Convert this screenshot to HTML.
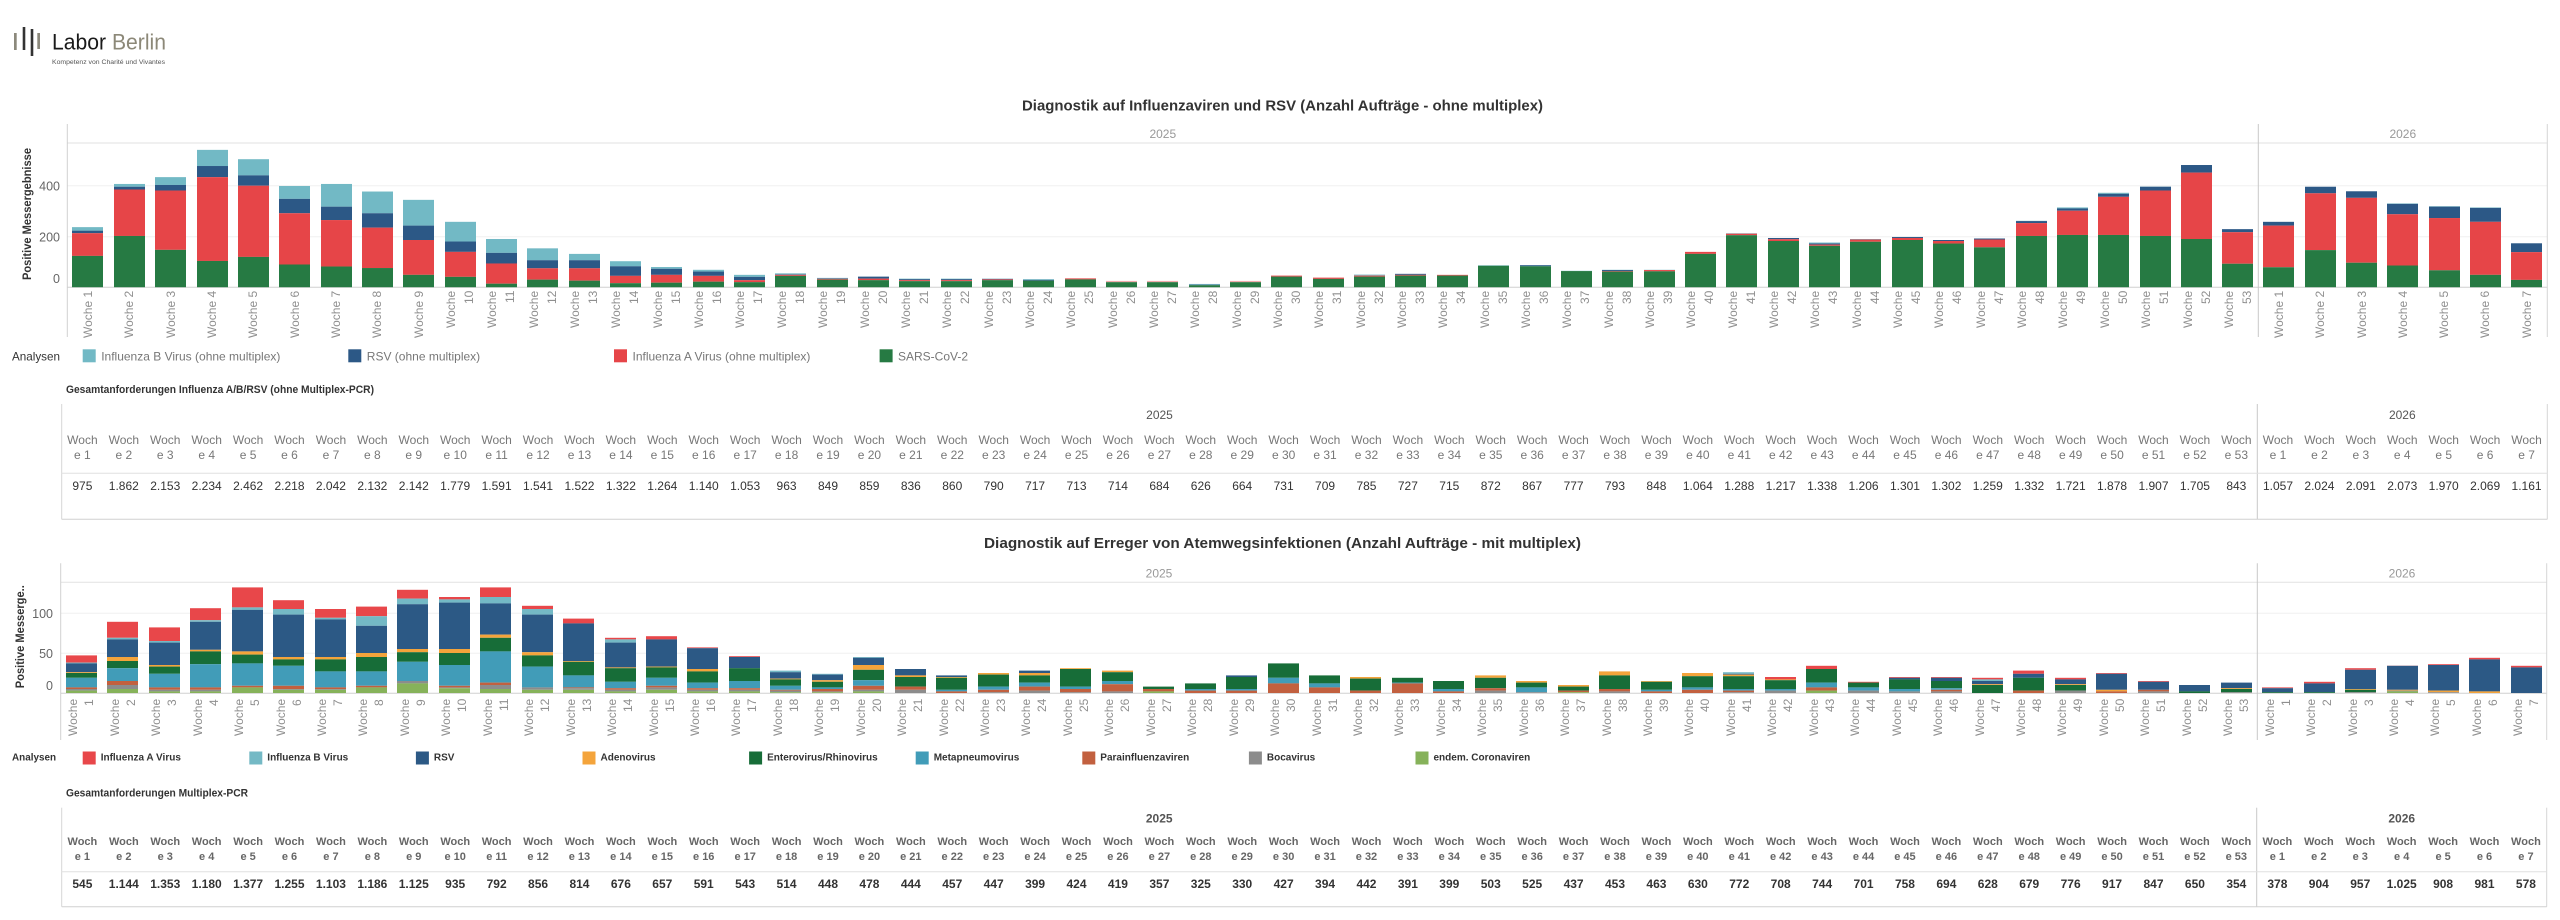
<!DOCTYPE html>
<html><head><meta charset="utf-8">
<style>
body{margin:0;width:2560px;height:920px;background:#fff;position:relative;overflow:hidden;font-family:"Liberation Sans",Arial,sans-serif}
#bg{position:absolute;left:0;top:0}
.bars{position:absolute;display:flex;align-items:flex-end;transform-origin:0 100%}
.c{flex:1 1 0;min-width:0;display:flex;flex-direction:column-reverse;align-items:center}
.c i{display:block;width:31px;flex:none}
.g{background:#267a43}.r{background:#e64548}.d{background:#2c5886}.l{background:#72b9c5}.q{background:#f1abab}
.k{background:#86b25a}.b{background:#8c8c8c}.p{background:#c2603f}.m{background:#419cb8}.e{background:#176d38}.o{background:#f4a43b}.s{background:#2c5985}.u{background:#74b9c5}.f{background:#e8474a}
.labs{position:absolute;display:flex}
.labs>div{flex:1 1 0;min-width:0;display:flex;justify-content:center}
.labs span{writing-mode:vertical-rl;transform:rotate(180deg);text-align:end;height:52px;font-size:12px;color:#8f8f8f;white-space:nowrap}
.l1 span{line-height:18px}
.l2 span{line-height:16px;height:44px}
.tb{position:absolute;display:flex;text-align:center;white-space:nowrap}
.tb>div{flex:1 1 0;min-width:0}
.th1{font-size:12px;line-height:15.3px;color:#777}
.tv1{font-size:12px;line-height:14px;color:#333}
.th2{font-size:11px;line-height:15px;color:#666;font-weight:bold}
.tv2{font-size:12px;line-height:14px;color:#333;font-weight:bold}
</style></head><body>
<svg id="bg" width="2560" height="920" xmlns="http://www.w3.org/2000/svg" font-family="Liberation Sans, Arial, sans-serif">
<!-- logo -->
<rect x="14" y="33" width="2.7" height="17" fill="#8c897c"/>
<rect x="22.7" y="27" width="2.6" height="23" fill="#333"/>
<rect x="30.7" y="29" width="2.6" height="27" fill="#333"/>
<rect x="37.3" y="33" width="2.7" height="16" fill="#8c897c"/>
<text x="52" y="49.5" font-size="22" textLength="114" lengthAdjust="spacingAndGlyphs"><tspan fill="#1a1a1a">Labor</tspan><tspan fill="#8c8878"> Berlin</tspan></text>
<text x="52" y="64" font-size="6.5" fill="#555" textLength="113" lengthAdjust="spacingAndGlyphs">Kompetenz von Charité und Vivantes</text>

<!-- titles -->
<text x="1022" y="106.7" dominant-baseline="central" font-size="14.5" font-weight="bold" fill="#333" textLength="521" lengthAdjust="spacingAndGlyphs">Diagnostik auf Influenzaviren und RSV (Anzahl Aufträge - ohne multiplex)</text>
<text x="984" y="544" dominant-baseline="central" font-size="14.5" font-weight="bold" fill="#333" textLength="597" lengthAdjust="spacingAndGlyphs">Diagnostik auf Erreger von Atemwegsinfektionen (Anzahl Aufträge - mit multiplex)</text>

<!-- chart 1 frame -->
<g stroke-width="1" fill="none">
<line x1="67.3" y1="185.7" x2="2547.3" y2="185.7" stroke="#f0f0f0"/>
<line x1="67.3" y1="236.7" x2="2547.3" y2="236.7" stroke="#f0f0f0"/>
<line x1="67.3" y1="143" x2="2547.3" y2="143" stroke="#e2e2e2"/>
<line x1="67.3" y1="287.3" x2="2547.3" y2="287.3" stroke="#d0d0d0"/>
<line x1="67.3" y1="124" x2="67.3" y2="337" stroke="#d0d0d0"/>
<line x1="2258.3" y1="124" x2="2258.3" y2="337" stroke="#c8c8c8"/>
<line x1="2547.3" y1="124" x2="2547.3" y2="337" stroke="#d6d6d6"/>
</g>
<text x="1162.8" y="134" dominant-baseline="central" text-anchor="middle" font-size="12" fill="#999">2025</text>
<text x="2402.8" y="134" dominant-baseline="central" text-anchor="middle" font-size="12" fill="#999">2026</text>
<g font-size="12.5" fill="#666" text-anchor="end" dominant-baseline="central">
<text x="60" y="186.7">400</text><text x="60" y="237.3">200</text><text x="60" y="279">0</text>
</g>
<text transform="translate(27,214) rotate(-90)" text-anchor="middle" dominant-baseline="central" font-size="12" font-weight="bold" fill="#333" textLength="132" lengthAdjust="spacingAndGlyphs">Positive Messergebnisse</text>

<!-- legend 1 -->
<text x="12" y="356.7" dominant-baseline="central" font-size="12" fill="#333" textLength="48" lengthAdjust="spacingAndGlyphs">Analysen</text>
<rect x="82.7" y="349.3" width="13" height="13" fill="#72b9c5"/>
<text x="101.2" y="356.7" dominant-baseline="central" font-size="12" fill="#777">Influenza B Virus (ohne multiplex)</text>
<rect x="348.3" y="349.3" width="13" height="13" fill="#2c5886"/>
<text x="366.8" y="356.7" dominant-baseline="central" font-size="12" fill="#777">RSV (ohne multiplex)</text>
<rect x="614" y="349.3" width="13" height="13" fill="#e64548"/>
<text x="632.5" y="356.7" dominant-baseline="central" font-size="12" fill="#777">Influenza A Virus (ohne multiplex)</text>
<rect x="879.6" y="349.3" width="13" height="13" fill="#267a43"/>
<text x="898" y="356.7" dominant-baseline="central" font-size="12" fill="#777">SARS-CoV-2</text>

<!-- table 1 -->
<text x="66" y="390" dominant-baseline="central" font-size="11" font-weight="bold" fill="#333" textLength="308" lengthAdjust="spacingAndGlyphs">Gesamtanforderungen Influenza A/B/RSV (ohne Multiplex-PCR)</text>
<g fill="none">
<line x1="61.7" y1="404" x2="61.7" y2="519.3" stroke="#d6d6d6"/>
<line x1="2257.3" y1="404" x2="2257.3" y2="519.3" stroke="#c8c8c8"/>
<line x1="2547.3" y1="404" x2="2547.3" y2="519.3" stroke="#d6d6d6"/>
<line x1="61.7" y1="473.3" x2="2547.3" y2="473.3" stroke="#e0e0e0"/>
<line x1="61.7" y1="519.3" x2="2547.3" y2="519.3" stroke="#d0d0d0"/>
</g>
<text x="1159.5" y="415" dominant-baseline="central" text-anchor="middle" font-size="12" fill="#555">2025</text>
<text x="2402.3" y="415" dominant-baseline="central" text-anchor="middle" font-size="12" fill="#555">2026</text>

<!-- chart 2 frame -->
<g fill="none">
<line x1="60.7" y1="613.3" x2="2546.7" y2="613.3" stroke="#f0f0f0"/>
<line x1="60.7" y1="653.3" x2="2546.7" y2="653.3" stroke="#f0f0f0"/>
<line x1="60.7" y1="582.3" x2="2546.7" y2="582.3" stroke="#e2e2e2"/>
<line x1="60.7" y1="693.3" x2="2546.7" y2="693.3" stroke="#d0d0d0"/>
<line x1="60.7" y1="563.3" x2="60.7" y2="740" stroke="#d0d0d0"/>
<line x1="2257.3" y1="563.3" x2="2257.3" y2="740" stroke="#c8c8c8"/>
<line x1="2546.7" y1="563.3" x2="2546.7" y2="740" stroke="#d6d6d6"/>
</g>
<text x="1159" y="573.3" dominant-baseline="central" text-anchor="middle" font-size="12" fill="#999">2025</text>
<text x="2402" y="573.3" dominant-baseline="central" text-anchor="middle" font-size="12" fill="#999">2026</text>
<g font-size="12.5" fill="#666" text-anchor="end" dominant-baseline="central">
<text x="53" y="614">100</text><text x="53" y="654">50</text><text x="53" y="686">0</text>
</g>
<text transform="translate(20,636.7) rotate(-90)" text-anchor="middle" dominant-baseline="central" font-size="12" font-weight="bold" fill="#333" textLength="103" lengthAdjust="spacingAndGlyphs">Positive Messerge..</text>

<!-- legend 2 -->
<text x="12" y="758" dominant-baseline="central" font-size="10" font-weight="bold" fill="#333" textLength="44" lengthAdjust="spacingAndGlyphs">Analysen</text>
<g font-size="10" font-weight="bold" fill="#333" dominant-baseline="central">
<rect x="82.7" y="751.5" width="13" height="13" fill="#e8474a"/><text x="100.7" y="758">Influenza A Virus</text>
<rect x="249.3" y="751.5" width="13" height="13" fill="#74b9c5"/><text x="267.3" y="758">Influenza B Virus</text>
<rect x="415.9" y="751.5" width="13" height="13" fill="#2c5985"/><text x="433.9" y="758">RSV</text>
<rect x="582.5" y="751.5" width="13" height="13" fill="#f4a43b"/><text x="600.5" y="758">Adenovirus</text>
<rect x="749.1" y="751.5" width="13" height="13" fill="#176d38"/><text x="767.1" y="758">Enterovirus/Rhinovirus</text>
<rect x="915.7" y="751.5" width="13" height="13" fill="#419cb8"/><text x="933.7" y="758">Metapneumovirus</text>
<rect x="1082.3" y="751.5" width="13" height="13" fill="#c2603f"/><text x="1100.3" y="758">Parainfluenzaviren</text>
<rect x="1248.9" y="751.5" width="13" height="13" fill="#8c8c8c"/><text x="1266.9" y="758">Bocavirus</text>
<rect x="1415.5" y="751.5" width="13" height="13" fill="#86b25a"/><text x="1433.5" y="758">endem. Coronaviren</text>
</g>

<!-- table 2 -->
<text x="66" y="793.3" dominant-baseline="central" font-size="11" font-weight="bold" fill="#333" textLength="182" lengthAdjust="spacingAndGlyphs">Gesamtanforderungen Multiplex-PCR</text>
<g fill="none">
<line x1="61.7" y1="807.7" x2="61.7" y2="906.7" stroke="#d6d6d6"/>
<line x1="2256.7" y1="807.7" x2="2256.7" y2="906.7" stroke="#c8c8c8"/>
<line x1="2546.7" y1="807.7" x2="2546.7" y2="906.7" stroke="#d6d6d6"/>
<line x1="61.7" y1="871.7" x2="2546.7" y2="871.7" stroke="#e0e0e0"/>
<line x1="61.7" y1="906.7" x2="2546.7" y2="906.7" stroke="#d0d0d0"/>
</g>
<text x="1159.2" y="818.3" dominant-baseline="central" text-anchor="middle" font-size="12" font-weight="bold" fill="#555">2025</text>
<text x="2401.7" y="818.3" dominant-baseline="central" text-anchor="middle" font-size="12" font-weight="bold" fill="#555">2026</text>
</svg>

<!-- chart 1 bars 2025 -->
<div class="bars" style="left:67.3px;top:0;width:2191px;height:287.3px;transform:scaleY(.2525)">
<div class=c><i class=g style=height:124px></i><i class=r style=height:90px></i><i class=d style=height:10px></i><i class=l style=height:14px></i></div>
<div class=c><i class=g style=height:203px></i><i class=r style=height:184px></i><i class=d style=height:11px></i><i class=l style=height:11px></i></div>
<div class=c><i class=g style=height:148px></i><i class=r style=height:235px></i><i class=d style=height:22px></i><i class=l style=height:31px></i></div>
<div class=c><i class=g style=height:104px></i><i class=r style=height:332px></i><i class=d style=height:44px></i><i class=l style=height:64px></i></div>
<div class=c><i class=g style=height:120px></i><i class=r style=height:282px></i><i class=d style=height:41px></i><i class=l style=height:64px></i></div>
<div class=c><i class=g style=height:90px></i><i class=r style=height:203px></i><i class=d style=height:57px></i><i class=l style=height:51px></i></div>
<div class=c><i class=g style=height:82px></i><i class=r style=height:184px></i><i class=d style=height:53px></i><i class=l style=height:90px></i></div>
<div class=c><i class=g style=height:76px></i><i class=r style=height:160px></i><i class=d style=height:57px></i><i class=l style=height:86px></i></div>
<div class=c><i class=g style=height:49px></i><i class=r style=height:138px></i><i class=d style=height:57px></i><i class=l style=height:102px></i></div>
<div class=c><i class=g style=height:41px></i><i class=r style=height:99px></i><i class=d style=height:41px></i><i class=l style=height:78px></i></div>
<div class=c><i class=g style=height:14px></i><i class=r style=height:80px></i><i class=d style=height:42px></i><i class=l style=height:55px></i></div>
<div class=c><i class=g style=height:30px></i><i class=r style=height:45px></i><i class=d style=height:32px></i><i class=l style=height:47px></i></div>
<div class=c><i class=g style=height:26px></i><i class=r style=height:49px></i><i class=d style=height:32px></i><i class=l style=height:25px></i></div>
<div class=c><i class=g style=height:16px></i><i class=r style=height:29px></i><i class=d style=height:38px></i><i class=l style=height:20px></i></div>
<div class=c><i class=g style=height:18px></i><i class=r style=height:31px></i><i class=d style=height:24px></i><i class=l style=height:7px></i></div>
<div class=c><i class=g style=height:22px></i><i class=r style=height:23px></i><i class=d style=height:17px></i><i class=l style=height:7px></i></div>
<div class=c><i class=g style=height:20px></i><i class=r style=height:8px></i><i class=d style=height:13px></i><i class=l style=height:8px></i></div>
<div class=c><i class=g style=height:45px></i><i class=r style=height:4px></i><i class=d style=height:2px></i><i class=l style=height:4px></i></div>
<div class=c><i class=g style=height:30px></i><i class=r style=height:3px></i><i class=d style=height:2px></i><i class=l style=height:2px></i></div>
<div class=c><i class=g style=height:28px></i><i class=r style=height:6px></i><i class=d style=height:8px></i></div>
<div class=c><i class=g style=height:24px></i><i class=r style=height:4px></i><i class=d style=height:4px></i><i class=l style=height:2px></i></div>
<div class=c><i class=g style=height:24px></i><i class=r style=height:4px></i><i class=d style=height:4px></i><i class=l style=height:2px></i></div>
<div class=c><i class=g style=height:28px></i><i class=r style=height:3px></i><i class=d style=height:2px></i><i class=l style=height:1px></i></div>
<div class=c><i class=g style=height:26px></i><i class=d style=height:3px></i><i class=l style=height:3px></i></div>
<div class=c><i class=g style=height:31px></i><i class=r style=height:4px></i></div>
<div class=c><i class=g style=height:20px></i><i class=q style=height:5px></i></div>
<div class=c><i class=g style=height:20px></i><i class=q style=height:5px></i></div>
<div class=c><i class=g style=height:8px></i><i class=d style=height:2px></i><i class=l style=height:3px></i></div>
<div class=c><i class=g style=height:20px></i><i class=q style=height:5px></i></div>
<div class=c><i class=g style=height:42px></i><i class=r style=height:4px></i></div>
<div class=c><i class=g style=height:33px></i><i class=r style=height:5px></i></div>
<div class=c><i class=g style=height:42px></i><i class=r style=height:4px></i><i class=l style=height:4px></i></div>
<div class=c><i class=g style=height:46px></i><i class=r style=height:3px></i><i class=d style=height:4px></i></div>
<div class=c><i class=g style=height:46px></i><i class=r style=height:3px></i></div>
<div class=c><i class=g style=height:85px></i><i class=l style=height:2px></i></div>
<div class=c><i class=g style=height:83px></i><i class=d style=height:4px></i><i class=l style=height:1px></i></div>
<div class=c><i class=g style=height:64px></i><i class=l style=height:1px></i></div>
<div class=c><i class=g style=height:62px></i><i class=r style=height:2px></i><i class=d style=height:4px></i><i class=l style=height:1px></i></div>
<div class=c><i class=g style=height:63px></i><i class=r style=height:5px></i><i class=l style=height:1px></i></div>
<div class=c><i class=g style=height:132px></i><i class=r style=height:8px></i></div>
<div class=c><i class=g style=height:206px></i><i class=r style=height:6px></i><i class=l style=height:2px></i></div>
<div class=c><i class=g style=height:183px></i><i class=r style=height:7px></i><i class=d style=height:5px></i></div>
<div class=c><i class=g style=height:164px></i><i class=r style=height:5px></i><i class=d style=height:4px></i><i class=l style=height:4px></i></div>
<div class=c><i class=g style=height:180px></i><i class=r style=height:9px></i><i class=l style=height:2px></i></div>
<div class=c><i class=g style=height:187px></i><i class=r style=height:8px></i><i class=d style=height:4px></i></div>
<div class=c><i class=g style=height:173px></i><i class=r style=height:10px></i><i class=d style=height:4px></i></div>
<div class=c><i class=g style=height:158px></i><i class=r style=height:31px></i><i class=d style=height:4px></i></div>
<div class=c><i class=g style=height:203px></i><i class=r style=height:51px></i><i class=d style=height:8px></i><i class=l style=height:1px></i></div>
<div class=c><i class=g style=height:207px></i><i class=r style=height:96px></i><i class=d style=height:9px></i><i class=l style=height:4px></i></div>
<div class=c><i class=g style=height:207px></i><i class=r style=height:151px></i><i class=d style=height:12px></i><i class=l style=height:4px></i></div>
<div class=c><i class=g style=height:203px></i><i class=r style=height:180px></i><i class=d style=height:15px></i><i class=l style=height:1px></i></div>
<div class=c><i class=g style=height:191px></i><i class=r style=height:263px></i><i class=d style=height:30px></i></div>
<div class=c><i class=g style=height:93px></i><i class=r style=height:125px></i><i class=d style=height:12px></i></div>
</div>
<!-- chart 1 bars 2026 -->
<div class="bars" style="left:2258.3px;top:0;width:289px;height:287.3px;transform:scaleY(.2525)">
<div class=c><i class=g style=height:79px></i><i class=r style=height:165px></i><i class=d style=height:15px></i></div>
<div class=c><i class=g style=height:147px></i><i class=r style=height:225px></i><i class=d style=height:26px></i></div>
<div class=c><i class=g style=height:97px></i><i class=r style=height:257px></i><i class=d style=height:26px></i></div>
<div class=c><i class=g style=height:86px></i><i class=r style=height:203px></i><i class=d style=height:41px></i><i class=l style=height:2px></i></div>
<div class=c><i class=g style=height:67px></i><i class=r style=height:207px></i><i class=d style=height:45px></i><i class=l style=height:2px></i></div>
<div class=c><i class=g style=height:49px></i><i class=r style=height:210px></i><i class=d style=height:55px></i><i class=l style=height:2px></i></div>
<div class=c><i class=g style=height:29px></i><i class=r style=height:110px></i><i class=d style=height:35px></i></div>
</div>

<!-- chart 1 labels -->
<div class="labs l1" style="left:67.3px;top:291px;width:2191px">
<div><span>Woche 1</span></div><div><span>Woche 2</span></div><div><span>Woche 3</span></div><div><span>Woche 4</span></div><div><span>Woche 5</span></div><div><span>Woche 6</span></div><div><span>Woche 7</span></div><div><span>Woche 8</span></div><div><span>Woche 9</span></div>
<div><span>Woche<br>10</span></div><div><span>Woche<br>11</span></div><div><span>Woche<br>12</span></div><div><span>Woche<br>13</span></div><div><span>Woche<br>14</span></div><div><span>Woche<br>15</span></div><div><span>Woche<br>16</span></div><div><span>Woche<br>17</span></div><div><span>Woche<br>18</span></div><div><span>Woche<br>19</span></div>
<div><span>Woche<br>20</span></div><div><span>Woche<br>21</span></div><div><span>Woche<br>22</span></div><div><span>Woche<br>23</span></div><div><span>Woche<br>24</span></div><div><span>Woche<br>25</span></div><div><span>Woche<br>26</span></div><div><span>Woche<br>27</span></div><div><span>Woche<br>28</span></div><div><span>Woche<br>29</span></div>
<div><span>Woche<br>30</span></div><div><span>Woche<br>31</span></div><div><span>Woche<br>32</span></div><div><span>Woche<br>33</span></div><div><span>Woche<br>34</span></div><div><span>Woche<br>35</span></div><div><span>Woche<br>36</span></div><div><span>Woche<br>37</span></div><div><span>Woche<br>38</span></div><div><span>Woche<br>39</span></div>
<div><span>Woche<br>40</span></div><div><span>Woche<br>41</span></div><div><span>Woche<br>42</span></div><div><span>Woche<br>43</span></div><div><span>Woche<br>44</span></div><div><span>Woche<br>45</span></div><div><span>Woche<br>46</span></div><div><span>Woche<br>47</span></div><div><span>Woche<br>48</span></div><div><span>Woche<br>49</span></div>
<div><span>Woche<br>50</span></div><div><span>Woche<br>51</span></div><div><span>Woche<br>52</span></div><div><span>Woche<br>53</span></div>
</div>
<div class="labs l1" style="left:2258.3px;top:291px;width:289px">
<div><span>Woche 1</span></div><div><span>Woche 2</span></div><div><span>Woche 3</span></div><div><span>Woche 4</span></div><div><span>Woche 5</span></div><div><span>Woche 6</span></div><div><span>Woche 7</span></div>
</div>

<!-- table 1 -->
<div class="tb th1" style="left:61.7px;top:433px;width:2195.6px">
<div>Woch<br>e 1</div><div>Woch<br>e 2</div><div>Woch<br>e 3</div><div>Woch<br>e 4</div><div>Woch<br>e 5</div><div>Woch<br>e 6</div><div>Woch<br>e 7</div><div>Woch<br>e 8</div><div>Woch<br>e 9</div><div>Woch<br>e 10</div>
<div>Woch<br>e 11</div><div>Woch<br>e 12</div><div>Woch<br>e 13</div><div>Woch<br>e 14</div><div>Woch<br>e 15</div><div>Woch<br>e 16</div><div>Woch<br>e 17</div><div>Woch<br>e 18</div><div>Woch<br>e 19</div><div>Woch<br>e 20</div>
<div>Woch<br>e 21</div><div>Woch<br>e 22</div><div>Woch<br>e 23</div><div>Woch<br>e 24</div><div>Woch<br>e 25</div><div>Woch<br>e 26</div><div>Woch<br>e 27</div><div>Woch<br>e 28</div><div>Woch<br>e 29</div><div>Woch<br>e 30</div>
<div>Woch<br>e 31</div><div>Woch<br>e 32</div><div>Woch<br>e 33</div><div>Woch<br>e 34</div><div>Woch<br>e 35</div><div>Woch<br>e 36</div><div>Woch<br>e 37</div><div>Woch<br>e 38</div><div>Woch<br>e 39</div><div>Woch<br>e 40</div>
<div>Woch<br>e 41</div><div>Woch<br>e 42</div><div>Woch<br>e 43</div><div>Woch<br>e 44</div><div>Woch<br>e 45</div><div>Woch<br>e 46</div><div>Woch<br>e 47</div><div>Woch<br>e 48</div><div>Woch<br>e 49</div><div>Woch<br>e 50</div>
<div>Woch<br>e 51</div><div>Woch<br>e 52</div><div>Woch<br>e 53</div>
</div>
<div class="tb th1" style="left:2257.3px;top:433px;width:290px">
<div>Woch<br>e 1</div><div>Woch<br>e 2</div><div>Woch<br>e 3</div><div>Woch<br>e 4</div><div>Woch<br>e 5</div><div>Woch<br>e 6</div><div>Woch<br>e 7</div>
</div>
<div class="tb tv1" style="left:61.7px;top:478.5px;width:2195.6px">
<div>975</div><div>1.862</div><div>2.153</div><div>2.234</div><div>2.462</div><div>2.218</div><div>2.042</div><div>2.132</div><div>2.142</div><div>1.779</div>
<div>1.591</div><div>1.541</div><div>1.522</div><div>1.322</div><div>1.264</div><div>1.140</div><div>1.053</div><div>963</div><div>849</div><div>859</div>
<div>836</div><div>860</div><div>790</div><div>717</div><div>713</div><div>714</div><div>684</div><div>626</div><div>664</div><div>731</div>
<div>709</div><div>785</div><div>727</div><div>715</div><div>872</div><div>867</div><div>777</div><div>793</div><div>848</div><div>1.064</div>
<div>1.288</div><div>1.217</div><div>1.338</div><div>1.206</div><div>1.301</div><div>1.302</div><div>1.259</div><div>1.332</div><div>1.721</div><div>1.878</div>
<div>1.907</div><div>1.705</div><div>843</div>
</div>
<div class="tb tv1" style="left:2257.3px;top:478.5px;width:290px">
<div>1.057</div><div>2.024</div><div>2.091</div><div>2.073</div><div>1.970</div><div>2.069</div><div>1.161</div>
</div>

<!-- chart 2 bars 2025 -->
<div class="bars" style="left:60.7px;top:543.3px;width:2196.6px;height:150px;transform:scaleY(.8)">
<div class=c><i class=k style=height:3px></i><i class=b style=height:2px></i><i class=p style=height:2.5px></i><i class=m style=height:11.5px></i><i class=e style=height:6px></i><i class=o style=height:1.5px></i><i class=s style=height:11px></i><i class=u style=height:1px></i><i class=f style=height:9px></i></div>
<div class=c><i class=k style=height:5px></i><i class=b style=height:4.6px></i><i class=p style=height:5px></i><i class=m style=height:16.7px></i><i class=e style=height:8.3px></i><i class=o style=height:5.4px></i><i class=s style=height:21.7px></i><i class=u style=height:2px></i><i class=f style=height:20px></i></div>
<div class=c><i class=k style=height:2px></i><i class=b style=height:2px></i><i class=p style=height:2.9px></i><i class=m style=height:16.7px></i><i class=e style=height:9.6px></i><i class=o style=height:1.7px></i><i class=s style=height:27.9px></i><i class=u style=height:2.5px></i><i class=f style=height:16.3px></i></div>
<div class=c><i class=k style=height:2px></i><i class=b style=height:2px></i><i class=p style=height:2.9px></i><i class=m style=height:29.6px></i><i class=e style=height:15.4px></i><i class=o style=height:2.5px></i><i class=s style=height:34.6px></i><i class=u style=height:2.5px></i><i class=f style=height:15px></i></div>
<div class=c><i class=k style=height:7.5px></i><i class=p style=height:1.7px></i><i class=m style=height:27.5px></i><i class=e style=height:11.25px></i><i class=o style=height:3.75px></i><i class=s style=height:52.5px></i><i class=u style=height:2.5px></i><i class=f style=height:25px></i></div>
<div class=c><i class=k style=height:4.2px></i><i class=b style=height:1.25px></i><i class=p style=height:3.75px></i><i class=m style=height:25px></i><i class=e style=height:7.5px></i><i class=o style=height:3.3px></i><i class=s style=height:53.3px></i><i class=u style=height:7.1px></i><i class=f style=height:10.8px></i></div>
<div class=c><i class=k style=height:4.2px></i><i class=b style=height:1.25px></i><i class=p style=height:2px></i><i class=m style=height:19.6px></i><i class=e style=height:14.6px></i><i class=o style=height:3.3px></i><i class=s style=height:46.7px></i><i class=u style=height:2.9px></i><i class=f style=height:10.8px></i></div>
<div class=c><i class=k style=height:6.7px></i><i class=b style=height:0.8px></i><i class=p style=height:1.7px></i><i class=m style=height:17.9px></i><i class=e style=height:17.9px></i><i class=o style=height:5px></i><i class=s style=height:34.2px></i><i class=u style=height:11.7px></i><i class=f style=height:12.1px></i></div>
<div class=c><i class=k style=height:11.7px></i><i class=b style=height:3.75px></i><i class=m style=height:23.75px></i><i class=e style=height:11.7px></i><i class=o style=height:4.6px></i><i class=s style=height:55.8px></i><i class=u style=height:6.25px></i><i class=f style=height:11.7px></i></div>
<div class=c><i class=k style=height:5.8px></i><i class=b style=height:1.7px></i><i class=p style=height:1.7px></i><i class=m style=height:25.4px></i><i class=e style=height:15.4px></i><i class=o style=height:5px></i><i class=s style=height:58.3px></i><i class=u style=height:3.3px></i><i class=f style=height:3.3px></i></div>
<div class=c><i class=k style=height:5px></i><i class=b style=height:4.6px></i><i class=p style=height:3.3px></i><i class=m style=height:39.6px></i><i class=e style=height:16.25px></i><i class=o style=height:4.2px></i><i class=s style=height:38.75px></i><i class=u style=height:8.3px></i><i class=f style=height:11.7px></i></div>
<div class=c><i class=k style=height:4.2px></i><i class=b style=height:3.3px></i><i class=m style=height:25.8px></i><i class=e style=height:14.2px></i><i class=o style=height:3.75px></i><i class=s style=height:46.7px></i><i class=u style=height:7.5px></i><i class=f style=height:3.75px></i></div>
<div class=c><i class=k style=height:4.2px></i><i class=b style=height:2px></i><i class=p style=height:1.2px></i><i class=m style=height:15px></i><i class=e style=height:16.7px></i><i class=o style=height:1.25px></i><i class=s style=height:47px></i><i class=f style=height:5.4px></i></div>
<div class=c><i class=k style=height:2.5px></i><i class=b style=height:1.7px></i><i class=p style=height:2px></i><i class=m style=height:7.9px></i><i class=e style=height:16.7px></i><i class=o style=height:1.7px></i><i class=s style=height:30.8px></i><i class=u style=height:4.2px></i><i class=f style=height:1.7px></i></div>
<div class=c><i class=k style=height:4.2px></i><i class=b style=height:3.3px></i><i class=p style=height:1.7px></i><i class=m style=height:9.6px></i><i class=e style=height:12.9px></i><i class=o style=height:1.7px></i><i class=s style=height:33.3px></i><i class=f style=height:4.2px></i></div>
<div class=c><i class=k style=height:2.5px></i><i class=b style=height:1.7px></i><i class=p style=height:2px></i><i class=m style=height:6.7px></i><i class=e style=height:14.6px></i><i class=o style=height:2.5px></i><i class=s style=height:25.8px></i><i class=f style=height:1.25px></i></div>
<div class=c><i class=k style=height:2.5px></i><i class=b style=height:1.7px></i><i class=p style=height:2px></i><i class=m style=height:9.2px></i><i class=e style=height:15.8px></i><i class=s style=height:14.2px></i><i class=f style=height:0.8px></i></div>
<div class=c><i class=k style=height:1.25px></i><i class=b style=height:1.7px></i><i class=p style=height:1.25px></i><i class=m style=height:4.6px></i><i class=e style=height:7.9px></i><i class=o style=height:1.25px></i><i class=s style=height:7.9px></i><i class=u style=height:2px></i></div>
<div class=c><i class=k style=height:0.8px></i><i class=b style=height:1.25px></i><i class=p style=height:3.3px></i><i class=m style=height:2px></i><i class=e style=height:7.1px></i><i class=o style=height:1.25px></i><i class=s style=height:7.1px></i><i class=u style=height:1.25px></i></div>
<div class=c><i class=k style=height:2.5px></i><i class=b style=height:1.7px></i><i class=p style=height:5px></i><i class=m style=height:6.7px></i><i class=e style=height:13.3px></i><i class=o style=height:6.25px></i><i class=s style=height:8.75px></i><i class=u style=height:1.25px></i></div>
<div class=c><i class=b style=height:4.2px></i><i class=p style=height:4.2px></i><i class=e style=height:12.1px></i><i class=o style=height:1.25px></i><i class=s style=height:7.9px></i></div>
<div class=c><i class=p style=height:2.5px></i><i class=m style=height:1.7px></i><i class=e style=height:14.6px></i><i class=o style=height:1.25px></i><i class=s style=height:1.7px></i></div>
<div class=c><i class=b style=height:1.25px></i><i class=p style=height:2.9px></i><i class=m style=height:4.2px></i><i class=e style=height:14.2px></i><i class=o style=height:2.5px></i></div>
<div class=c><i class=b style=height:2.9px></i><i class=p style=height:5.4px></i><i class=m style=height:5px></i><i class=e style=height:8.3px></i><i class=o style=height:3.3px></i><i class=s style=height:2.9px></i></div>
<div class=c><i class=b style=height:1.25px></i><i class=p style=height:4.2px></i><i class=m style=height:2.9px></i><i class=e style=height:21.7px></i><i class=o style=height:1.25px></i></div>
<div class=c><i class=b style=height:1.7px></i><i class=p style=height:9.6px></i><i class=m style=height:3.75px></i><i class=e style=height:10.8px></i><i class=o style=height:2px></i></div>
<div class=c><i class=k style=height:2px></i><i class=p style=height:2.9px></i><i class=e style=height:3.3px></i></div>
<div class=c><i class=p style=height:3.3px></i><i class=m style=height:1.7px></i><i class=e style=height:7.1px></i></div>
<div class=c><i class=p style=height:3.3px></i><i class=m style=height:2px></i><i class=e style=height:15px></i><i class=s style=height:1.25px></i></div>
<div class=c><i class=p style=height:11.7px></i><i class=m style=height:7.1px></i><i class=e style=height:18.3px></i></div>
<div class=c><i class=p style=height:7.1px></i><i class=m style=height:4.6px></i><i class=e style=height:10px></i></div>
<div class=c><i class=p style=height:2.9px></i><i class=e style=height:15px></i><i class=o style=height:2.5px></i></div>
<div class=c><i class=p style=height:12.1px></i><i class=m style=height:1.25px></i><i class=e style=height:5.8px></i></div>
<div class=c><i class=p style=height:2px></i><i class=m style=height:3.3px></i><i class=e style=height:10px></i></div>
<div class=c><i class=b style=height:2.9px></i><i class=p style=height:3.3px></i><i class=e style=height:12.9px></i><i class=o style=height:2.5px></i></div>
<div class=c><i class=b style=height:0.8px></i><i class=m style=height:6.7px></i><i class=e style=height:5.4px></i><i class=o style=height:2.5px></i></div>
<div class=c><i class=k style=height:1.25px></i><i class=p style=height:1.7px></i><i class=e style=height:5.4px></i><i class=o style=height:1.25px></i></div>
<div class=c><i class=b style=height:2px></i><i class=p style=height:2.9px></i><i class=e style=height:17.5px></i><i class=o style=height:4.2px></i></div>
<div class=c><i class=p style=height:2.5px></i><i class=m style=height:1.7px></i><i class=e style=height:10px></i><i class=o style=height:1.25px></i></div>
<div class=c><i class=p style=height:4.2px></i><i class=m style=height:3.3px></i><i class=e style=height:13.75px></i><i class=o style=height:3.75px></i></div>
<div class=c><i class=b style=height:1.5px></i><i class=p style=height:1.4px></i><i class=m style=height:2px></i><i class=e style=height:15.8px></i><i class=o style=height:2.5px></i><i class=s style=height:1.25px></i><i class=u style=height:2px></i></div>
<div class=c><i class=b style=height:2.9px></i><i class=m style=height:2px></i><i class=e style=height:10.8px></i><i class=o style=height:1.25px></i><i class=f style=height:3.3px></i></div>
<div class=c><i class=k style=height:2.9px></i><i class=p style=height:4.6px></i><i class=m style=height:5.4px></i><i class=e style=height:17.5px></i><i class=f style=height:3.3px></i></div>
<div class=c><i class=b style=height:2.9px></i><i class=m style=height:4.6px></i><i class=e style=height:5.4px></i><i class=f style=height:1.25px></i></div>
<div class=c><i class=b style=height:2px></i><i class=m style=height:3.3px></i><i class=e style=height:11.25px></i><i class=s style=height:2.5px></i><i class=f style=height:1.25px></i></div>
<div class=c><i class=b style=height:2px></i><i class=p style=height:2px></i><i class=m style=height:2px></i><i class=e style=height:9.2px></i><i class=s style=height:3.75px></i><i class=f style=height:1.25px></i></div>
<div class=c><i class=e style=height:9.6px></i><i class=o style=height:1.25px></i><i class=s style=height:4.6px></i><i class=u style=height:1.25px></i><i class=f style=height:2.5px></i></div>
<div class=c><i class=p style=height:2.9px></i><i class=e style=height:16.25px></i><i class=s style=height:5px></i><i class=f style=height:3.75px></i></div>
<div class=c><i class=b style=height:2.9px></i><i class=e style=height:6.7px></i><i class=o style=height:1.25px></i><i class=s style=height:5.8px></i><i class=f style=height:2.5px></i></div>
<div class=c><i class=p style=height:2.5px></i><i class=o style=height:1.7px></i><i class=s style=height:19.6px></i><i class=f style=height:1.7px></i></div>
<div class=c><i class=b style=height:2.5px></i><i class=p style=height:1.7px></i><i class=s style=height:10px></i><i class=f style=height:1.25px></i></div>
<div class=c><i class=e style=height:2px></i><i class=s style=height:8.3px></i></div>
<div class=c><i class=b style=height:1.5px></i><i class=e style=height:3.3px></i><i class=o style=height:1.4px></i><i class=s style=height:7.1px></i></div>
</div>
<!-- chart 2 bars 2026 -->
<div class="bars" style="left:2257.3px;top:543.3px;width:289.4px;height:150px;transform:scaleY(.8)">
<div class=c><i class=e style=height:0.8px></i><i class=s style=height:5px></i><i class=f style=height:1.7px></i></div>
<div class=c><i class=e style=height:0.8px></i><i class=s style=height:11.25px></i><i class=f style=height:2px></i></div>
<div class=c><i class=b style=height:1px></i><i class=e style=height:3.3px></i><i class=o style=height:1px></i><i class=s style=height:23.3px></i><i class=f style=height:2.5px></i></div>
<div class=c><i class=k style=height:2px></i><i class=b style=height:1px></i><i class=o style=height:1px></i><i class=s style=height:29.6px></i><i class=f style=height:0.5px></i></div>
<div class=c><i class=b style=height:1.5px></i><i class=o style=height:1.4px></i><i class=s style=height:31.7px></i><i class=f style=height:1.25px></i></div>
<div class=c><i class=o style=height:2.5px></i><i class=s style=height:40px></i><i class=f style=height:1.7px></i></div>
<div class=c><i class=s style=height:32px></i><i class=f style=height:1.7px></i></div>
</div>

<!-- chart 2 labels -->
<div class="labs l2" style="left:60.7px;top:698.5px;width:2196.6px">
<div><span>Woche<br>1</span></div><div><span>Woche<br>2</span></div><div><span>Woche<br>3</span></div><div><span>Woche<br>4</span></div><div><span>Woche<br>5</span></div><div><span>Woche<br>6</span></div><div><span>Woche<br>7</span></div><div><span>Woche<br>8</span></div><div><span>Woche<br>9</span></div>
<div><span>Woche<br>10</span></div><div><span>Woche<br>11</span></div><div><span>Woche<br>12</span></div><div><span>Woche<br>13</span></div><div><span>Woche<br>14</span></div><div><span>Woche<br>15</span></div><div><span>Woche<br>16</span></div><div><span>Woche<br>17</span></div><div><span>Woche<br>18</span></div><div><span>Woche<br>19</span></div>
<div><span>Woche<br>20</span></div><div><span>Woche<br>21</span></div><div><span>Woche<br>22</span></div><div><span>Woche<br>23</span></div><div><span>Woche<br>24</span></div><div><span>Woche<br>25</span></div><div><span>Woche<br>26</span></div><div><span>Woche<br>27</span></div><div><span>Woche<br>28</span></div><div><span>Woche<br>29</span></div>
<div><span>Woche<br>30</span></div><div><span>Woche<br>31</span></div><div><span>Woche<br>32</span></div><div><span>Woche<br>33</span></div><div><span>Woche<br>34</span></div><div><span>Woche<br>35</span></div><div><span>Woche<br>36</span></div><div><span>Woche<br>37</span></div><div><span>Woche<br>38</span></div><div><span>Woche<br>39</span></div>
<div><span>Woche<br>40</span></div><div><span>Woche<br>41</span></div><div><span>Woche<br>42</span></div><div><span>Woche<br>43</span></div><div><span>Woche<br>44</span></div><div><span>Woche<br>45</span></div><div><span>Woche<br>46</span></div><div><span>Woche<br>47</span></div><div><span>Woche<br>48</span></div><div><span>Woche<br>49</span></div>
<div><span>Woche<br>50</span></div><div><span>Woche<br>51</span></div><div><span>Woche<br>52</span></div><div><span>Woche<br>53</span></div>
</div>
<div class="labs l2" style="left:2257.3px;top:698.5px;width:289.4px">
<div><span>Woche<br>1</span></div><div><span>Woche<br>2</span></div><div><span>Woche<br>3</span></div><div><span>Woche<br>4</span></div><div><span>Woche<br>5</span></div><div><span>Woche<br>6</span></div><div><span>Woche<br>7</span></div>
</div>

<!-- table 2 -->
<div class="tb th2" style="left:61.7px;top:834.8px;width:2195px">
<div>Woch<br>e 1</div><div>Woch<br>e 2</div><div>Woch<br>e 3</div><div>Woch<br>e 4</div><div>Woch<br>e 5</div><div>Woch<br>e 6</div><div>Woch<br>e 7</div><div>Woch<br>e 8</div><div>Woch<br>e 9</div><div>Woch<br>e 10</div>
<div>Woch<br>e 11</div><div>Woch<br>e 12</div><div>Woch<br>e 13</div><div>Woch<br>e 14</div><div>Woch<br>e 15</div><div>Woch<br>e 16</div><div>Woch<br>e 17</div><div>Woch<br>e 18</div><div>Woch<br>e 19</div><div>Woch<br>e 20</div>
<div>Woch<br>e 21</div><div>Woch<br>e 22</div><div>Woch<br>e 23</div><div>Woch<br>e 24</div><div>Woch<br>e 25</div><div>Woch<br>e 26</div><div>Woch<br>e 27</div><div>Woch<br>e 28</div><div>Woch<br>e 29</div><div>Woch<br>e 30</div>
<div>Woch<br>e 31</div><div>Woch<br>e 32</div><div>Woch<br>e 33</div><div>Woch<br>e 34</div><div>Woch<br>e 35</div><div>Woch<br>e 36</div><div>Woch<br>e 37</div><div>Woch<br>e 38</div><div>Woch<br>e 39</div><div>Woch<br>e 40</div>
<div>Woch<br>e 41</div><div>Woch<br>e 42</div><div>Woch<br>e 43</div><div>Woch<br>e 44</div><div>Woch<br>e 45</div><div>Woch<br>e 46</div><div>Woch<br>e 47</div><div>Woch<br>e 48</div><div>Woch<br>e 49</div><div>Woch<br>e 50</div>
<div>Woch<br>e 51</div><div>Woch<br>e 52</div><div>Woch<br>e 53</div>
</div>
<div class="tb th2" style="left:2256.7px;top:834.8px;width:290px">
<div>Woch<br>e 1</div><div>Woch<br>e 2</div><div>Woch<br>e 3</div><div>Woch<br>e 4</div><div>Woch<br>e 5</div><div>Woch<br>e 6</div><div>Woch<br>e 7</div>
</div>
<div class="tb tv2" style="left:61.7px;top:876.5px;width:2195px">
<div>545</div><div>1.144</div><div>1.353</div><div>1.180</div><div>1.377</div><div>1.255</div><div>1.103</div><div>1.186</div><div>1.125</div><div>935</div>
<div>792</div><div>856</div><div>814</div><div>676</div><div>657</div><div>591</div><div>543</div><div>514</div><div>448</div><div>478</div>
<div>444</div><div>457</div><div>447</div><div>399</div><div>424</div><div>419</div><div>357</div><div>325</div><div>330</div><div>427</div>
<div>394</div><div>442</div><div>391</div><div>399</div><div>503</div><div>525</div><div>437</div><div>453</div><div>463</div><div>630</div>
<div>772</div><div>708</div><div>744</div><div>701</div><div>758</div><div>694</div><div>628</div><div>679</div><div>776</div><div>917</div>
<div>847</div><div>650</div><div>354</div>
</div>
<div class="tb tv2" style="left:2256.7px;top:876.5px;width:290px">
<div>378</div><div>904</div><div>957</div><div>1.025</div><div>908</div><div>981</div><div>578</div>
</div>
</body></html>
